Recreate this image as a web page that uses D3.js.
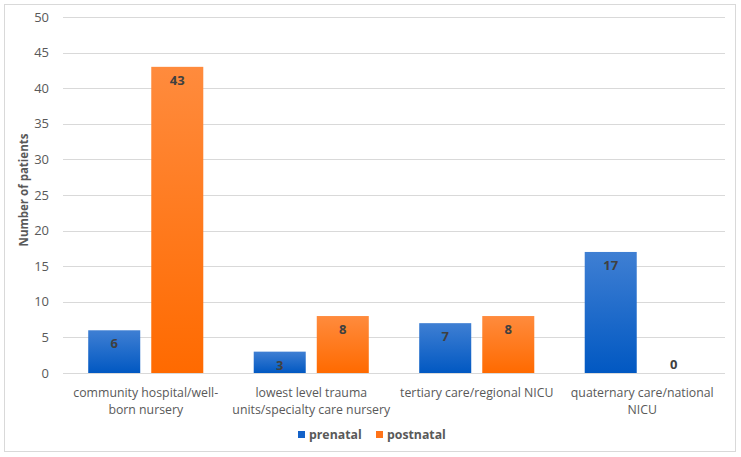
<!DOCTYPE html>
<html><head><meta charset="utf-8">
<script src="https://cdn.jsdelivr.net/npm/d3@7"></script>
<style>body{margin:0;background:#fff}svg{display:block}</style>
</head><body>
<script>
const categories = [
  ["community hospital/well-", "born nursery"],
  ["lowest level trauma", "units/specialty care nursery"],
  ["tertiary care/regional NICU"],
  ["quaternary care/national", "NICU"]
];
const seriesNames = ["prenatal", "postnatal"];
const prenatal = [6, 3, 7, 17];
const postnatal = [43, 8, 8, 0];
const yTicks = [0,5,10,15,20,25,30,35,40,45,50];

(function(){
const W = 741, H = 457;
const svg = d3.select("body").append("svg").attr("width", W).attr("height", H);
const font = "'Open Sans', 'Liberation Sans', sans-serif";
const defs = svg.append("defs");
function grad(id, c1, c2){
  const g = defs.append("linearGradient").attr("id", id).attr("x1",0).attr("y1",0).attr("x2",0).attr("y2",1);
  g.append("stop").attr("offset","0%").attr("stop-color",c1);
  g.append("stop").attr("offset","100%").attr("stop-color",c2);
}
grad("gBlue", "#3f7fd3", "#0158c2");
grad("gOrange", "#ff8b3d", "#ff6a00");

svg.append("rect").attr("x",4.5).attr("y",4.5).attr("width",731).attr("height",447)
  .attr("fill","#fff").attr("stroke","#d9d9d9");

const pLeft = 63, pRight = 725, pTop = 17, pBottom = 373;
const x0 = d3.scaleBand().domain(d3.range(categories.length)).range([pLeft, pRight]);
const x1 = d3.scaleBand().domain([0,1]).range([0, x0.bandwidth()]).paddingInner(0.175).paddingOuter(0.4);
const y = d3.scaleLinear().domain([0,50]).range([pBottom, pTop]);

svg.append("g").selectAll("line").data(yTicks).join("line")
  .attr("x1", pLeft).attr("x2", pRight)
  .attr("y1", d=>Math.round(y(d))+0.5).attr("y2", d=>Math.round(y(d))+0.5)
  .attr("stroke", "#d9d9d9").attr("stroke-width",1);

const yAxis = d3.axisLeft(y).tickValues(yTicks).tickSize(0).tickPadding(0);
const ya = svg.append("g").attr("transform", `translate(${pLeft-14},0)`).call(yAxis);
ya.select(".domain").remove();
ya.selectAll("text").attr("font-family", font).attr("font-size", 13).attr("fill", "#595959");

svg.append("text").attr("transform", `translate(28,${(pTop+pBottom)/2-5}) rotate(-90)`)
  .attr("text-anchor","middle").attr("font-family", font).attr("font-size", 11.5)
  .attr("font-weight","bold").attr("fill","#595959").text("Number of patients");

const series = [prenatal, postnatal];
const fills = ["url(#gBlue)", "url(#gOrange)"];
series.forEach((vals, s) => {
  const g = svg.append("g");
  g.selectAll("rect").data(vals).join("rect")
    .attr("x", (d,i)=> x0(i) + x1(s))
    .attr("y", d=> y(d))
    .attr("width", x1.bandwidth())
    .attr("height", d=> pBottom - y(d))
    .attr("fill", fills[s]);
  g.selectAll("text").data(vals).join("text")
    .attr("x", (d,i)=> x0(i) + x1(s) + x1.bandwidth()/2)
    .attr("y", d=> d>0 ? y(d)+18 : y(d)-4)
    .attr("text-anchor","middle").attr("font-family", font).attr("font-size", 13)
    .attr("font-weight","bold").attr("fill","#404040").text(d=>d);
});

const cg = svg.append("g");
categories.forEach((lines, i) => {
  const cx = x0(i)+x0.bandwidth()/2;
  const t = cg.append("text").attr("x", cx).attr("y", 397)
    .attr("text-anchor","middle").attr("font-family", font).attr("font-size", 12.3)
    .attr("fill","#595959");
  lines.forEach((l, k) => t.append("tspan").attr("x", cx).attr("dy", k===0?0:17).text(l));
});

const legend = svg.append("g");
const lx = [298, 376];
const lcol = ["#1462c8", "#ff7318"];
seriesNames.forEach((n, i) => {
  legend.append("rect").attr("x", lx[i]).attr("y", 431).attr("width", 7).attr("height", 7).attr("fill", lcol[i]);
  legend.append("text").attr("x", lx[i]+11).attr("y", 439).attr("font-family", font).attr("font-size", 12.3)
    .attr("font-weight","bold").attr("fill","#595959").text(n);
});
})();
</script>
</body></html>
